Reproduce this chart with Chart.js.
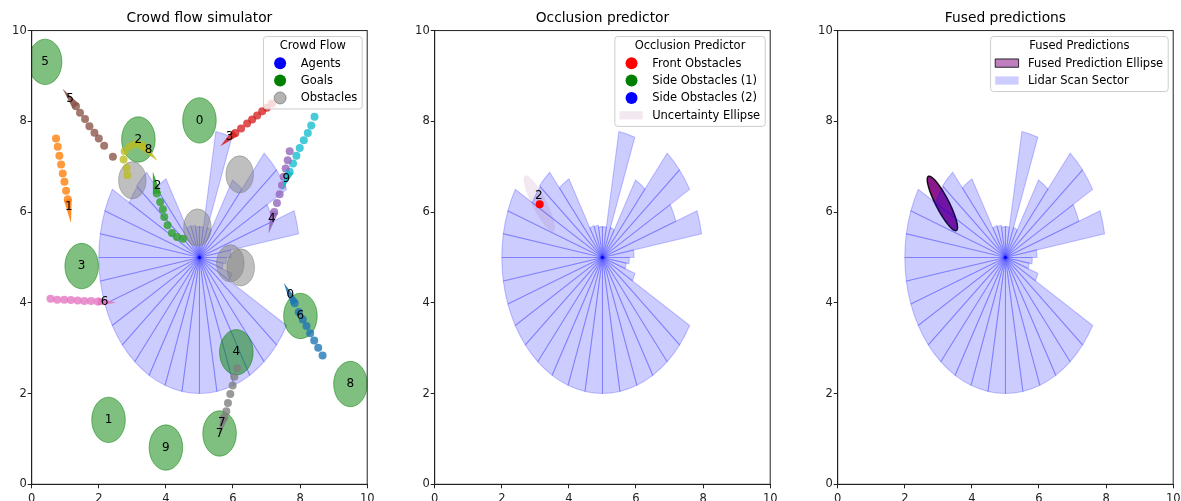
<!DOCTYPE html>
<html>
<head>
<meta charset="utf-8">
<script src="https://cdn.jsdelivr.net/npm/chart.js@4.4.0/dist/chart.umd.min.js"></script>
<style>
  body { margin: 0; background: #fff; width: 1181px; height: 501px; overflow: hidden; position: relative; }
  .box { position: absolute; top: 0; width: 375px; height: 501px; }
</style>
</head>
<body>
<div class="box" style="left:0px"><canvas id="c1" width="375" height="501"></canvas></div>
<div class="box" style="left:402.6px"><canvas id="c2" width="375" height="501"></canvas></div>
<div class="box" style="left:805.6px"><canvas id="c3" width="375" height="501"></canvas></div>
<script>
// ---- data (data units) ----
const robotXY = [5, 5];
const sectorDeg = 10;
// one range per 10 degree lidar sector, counter-clockwise from +x
const lidarRanges = [0.94, 3.0, 2.33, 3.0, 3.0, 1.97, 0.7, 2.82, 0.68, 0.68, 0.72, 0.75,
  2.0, 2.45, 2.42, 3.0, 3.0, 3.0,
  3.0, 3.0, 3.0, 3.0, 3.0, 3.0, 3.0, 3.0, 3.0, 3.0, 3.0, 3.0, 3.0, 3.0, 3.0,
  1.03, 0.72, 0.8];

const goalIds = [0, 1, 2, 3, 4, 5, 6, 7, 8, 9];
const goalX = [5.0, 2.29, 3.18, 1.49, 6.1, 0.4, 8.01, 5.6, 9.5, 4.0];
const goalY = [8.02, 1.42, 7.6, 4.81, 2.91, 9.31, 3.71, 1.12, 2.21, 0.81];
const goalR = 0.5;

const obstacleX = [3.0, 6.2, 4.94, 5.92, 6.23];
const obstacleY = [6.7, 6.83, 5.66, 4.87, 4.78];
const obstacleR = 0.41;

// past positions of each agent, oldest first
const agentTrails = [
  [[8.67, 2.84], [8.54, 3.01], [8.42, 3.17], [8.30, 3.33], [8.19, 3.49], [8.08, 3.63], [7.96, 3.80], [7.84, 3.99]],
  [[0.725, 7.62], [0.776, 7.44], [0.825, 7.24], [0.875, 7.05], [0.925, 6.85], [0.975, 6.67], [1.024, 6.47], [1.075, 6.28]],
  [[4.51, 5.41], [4.33, 5.45], [4.18, 5.54], [4.05, 5.71], [3.95, 5.89], [3.91, 6.06], [3.83, 6.22], [3.73, 6.41]],
  [[7.16, 8.39], [7.01, 8.30], [6.87, 8.22], [6.72, 8.13], [6.57, 8.04], [6.42, 7.95], [6.24, 7.84], [6.07, 7.74]],
  [[7.69, 7.34], [7.63, 7.14], [7.57, 6.96], [7.51, 6.78], [7.46, 6.59], [7.39, 6.39], [7.31, 6.20], [7.23, 6.0]],
  [[2.42, 7.22], [2.16, 7.46], [2.0, 7.62], [1.87, 7.75], [1.72, 7.89], [1.59, 8.05], [1.44, 8.19], [1.32, 8.33]],
  [[0.56, 4.09], [0.76, 4.07], [0.97, 4.07], [1.17, 4.06], [1.37, 4.05], [1.57, 4.04], [1.77, 4.04], [1.97, 4.03]],
  [[6.12, 2.56], [6.04, 2.37], [5.99, 2.18], [5.92, 1.99], [5.85, 1.79], [5.80, 1.61], [5.74, 1.48]],
  [[2.85, 6.81], [2.83, 6.97], [2.74, 7.16], [2.77, 7.34], [2.93, 7.45], [3.1, 7.5], [3.28, 7.47]],
  [[8.43, 8.10], [8.33, 7.91], [8.23, 7.74], [8.11, 7.58], [7.99, 7.41], [7.89, 7.24], [7.79, 7.07], [7.69, 6.89]]
];
const agentLabelX = [7.71, 1.11, 3.75, 5.9, 7.16, 1.14, 2.17, 5.67, 3.48, 7.59];
const agentLabelY = [4.17, 6.11, 6.57, 7.66, 5.84, 8.49, 4.02, 1.36, 7.37, 6.74];
const agentTipX = [7.51, 1.17, 3.61, 5.62, 7.06, 0.92, 2.52, 5.57, 3.75, 7.46];
const agentTipY = [4.44, 5.76, 6.89, 7.45, 5.53, 8.72, 4.0, 1.05, 7.13, 6.48];

// occlusion predictor
const frontObsIds = [2];
const frontObsX = [3.13];
const frontObsY = [6.17];
const ellipseCenter = [3.12, 6.19];
const ellipseAxes = [0.75, 0.2];
const ellipseAngle = -54.2;
const fusedAxes = [0.73, 0.18];

const tab10 = ['#1f77b4', '#ff7f0e', '#2ca02c', '#d62728', '#9467bd', '#8c564b', '#e377c2', '#7f7f7f', '#bcbd22', '#17becf'];

Chart.defaults.font.family = '"DejaVu Sans", sans-serif';
Chart.defaults.color = '#222';

function rgba(hex, a) {
  const n = parseInt(hex.slice(1), 16);
  return `rgba(${n >> 16},${(n >> 8) & 255},${n & 255},${a})`;
}

function scaleOpts(isX) {
  return {
    type: 'linear', min: 0, max: 10,
    ticks: { stepSize: 2, font: { size: 11.5 }, color: '#222', padding: isX ? 4 : 1, maxRotation: 0 },
    grid: { drawOnChartArea: false, drawTicks: true, tickLength: 4, color: '#222' },
    border: { display: true, color: '#222' },
    afterFit(s) {
      if (isX) s.height = 16.7; else s.width = 31.7;
      s.paddingLeft = s.paddingRight = s.paddingTop = s.paddingBottom = 0;
    }
  };
}

function px(chart, x, y) {
  return [chart.scales.x.getPixelForValue(x), chart.scales.y.getPixelForValue(y)];
}

function clipArea(chart) {
  const { ctx, chartArea: a } = chart;
  ctx.save();
  ctx.beginPath();
  ctx.rect(a.left, a.top, a.right - a.left, a.bottom - a.top);
  ctx.clip();
}

function drawLidar(chart) {
  const { ctx, scales: { x, y } } = chart;
  const [cx, cy] = px(chart, robotXY[0], robotXY[1]);
  const sx = x.getPixelForValue(1) - x.getPixelForValue(0);
  const sy = y.getPixelForValue(0) - y.getPixelForValue(1);
  ctx.fillStyle = 'rgba(0,0,255,0.2)';
  ctx.strokeStyle = 'rgba(0,0,255,0.22)';
  ctx.lineWidth = 1.1;
  lidarRanges.forEach((r, i) => {
    const a0 = i * sectorDeg * Math.PI / 180, a1 = (i + 1) * sectorDeg * Math.PI / 180;
    ctx.beginPath();
    ctx.moveTo(cx, cy);
    ctx.ellipse(cx, cy, r * sx, r * sy, 0, -a0, -a1, true);
    ctx.closePath();
    ctx.fill();
    ctx.stroke();
  });
}

function drawCircles(chart, xs, ys, r, color) {
  const { ctx, scales: { x, y } } = chart;
  const sx = x.getPixelForValue(1) - x.getPixelForValue(0);
  const sy = y.getPixelForValue(0) - y.getPixelForValue(1);
  ctx.fillStyle = color;
  ctx.strokeStyle = color;
  ctx.lineWidth = 1;
  xs.forEach((v, i) => {
    const [cx, cy] = px(chart, v, ys[i]);
    ctx.beginPath();
    ctx.ellipse(cx, cy, r * sx, r * sy, 0, 0, Math.PI * 2);
    ctx.fill();
    ctx.stroke();
  });
}

// rotated ellipse in data coordinates
function drawDataEllipse(chart, c, axes, angDeg, fill, stroke, lw) {
  const { ctx } = chart;
  const phi = angDeg * Math.PI / 180;
  ctx.beginPath();
  for (let k = 0; k <= 72; k++) {
    const t = k / 72 * Math.PI * 2;
    const ex = axes[0] * Math.cos(t), ey = axes[1] * Math.sin(t);
    const [qx, qy] = px(chart, c[0] + ex * Math.cos(phi) - ey * Math.sin(phi), c[1] + ex * Math.sin(phi) + ey * Math.cos(phi));
    if (k === 0) ctx.moveTo(qx, qy); else ctx.lineTo(qx, qy);
  }
  ctx.closePath();
  ctx.fillStyle = fill;
  ctx.fill();
  if (stroke) { ctx.strokeStyle = stroke; ctx.lineWidth = lw; ctx.stroke(); }
}

function drawText(chart, s, x, y) {
  const { ctx } = chart;
  const [qx, qy] = px(chart, x, y);
  ctx.fillStyle = '#000';
  ctx.font = '12px "DejaVu Sans"';
  ctx.textAlign = 'center';
  ctx.textBaseline = 'middle';
  ctx.fillText(s, qx, qy);
}

function drawFrame(chart) {
  const { ctx, chartArea: a } = chart;
  ctx.save();
  ctx.strokeStyle = '#222';
  ctx.lineWidth = 1;
  ctx.strokeRect(a.left, a.top, a.right - a.left, a.bottom - a.top);
  ctx.restore();
}

function drawLegend(chart, title, items) {
  const { ctx, chartArea: a } = chart;
  ctx.save();
  ctx.font = '11.5px "DejaVu Sans"';
  const textW = Math.max(...items.map(it => ctx.measureText(it.text).width));
  const w = Math.max(37.3 + textW + 5, ctx.measureText(title).width + 10);
  const h = 26.6 + (items.length - 1) * 17.4 + 11;
  const left = a.right - 5 - w, top = a.top + 6;
  ctx.beginPath();
  ctx.roundRect(left, top, w, h, 3);
  ctx.fillStyle = 'rgba(255,255,255,0.8)';
  ctx.fill();
  ctx.strokeStyle = '#cccccc';
  ctx.lineWidth = 1;
  ctx.stroke();
  ctx.fillStyle = '#000';
  ctx.textBaseline = 'middle';
  ctx.textAlign = 'center';
  ctx.fillText(title, left + w / 2, top + 9.5);
  items.forEach((it, i) => {
    const cy = top + 26.6 + i * 17.4;
    ctx.beginPath();
    if (it.type === 'circle') {
      ctx.arc(left + 16.7, cy, 6, 0, Math.PI * 2);
    } else {
      ctx.rect(left + 4.6, cy - 4.2, 23.4, 8.3);
    }
    ctx.fillStyle = it.fill;
    ctx.fill();
    if (it.stroke) { ctx.strokeStyle = it.stroke; ctx.lineWidth = 1; ctx.stroke(); }
    ctx.fillStyle = '#000';
    ctx.textAlign = 'left';
    ctx.fillText(it.text, left + 37.3, cy + 0.5);
  });
  ctx.restore();
}

function baseOptions(title) {
  return {
    responsive: false,
    animation: false,
    events: [],
    layout: { padding: { left: 0, right: 7.8, top: 0, bottom: 0 } },
    scales: { x: scaleOpts(true), y: scaleOpts(false) },
    plugins: {
      legend: { display: false },
      tooltip: { enabled: false },
      title: { display: true, text: title, fullSize: false, color: '#000',
        font: { size: 13.8, weight: 'normal' }, padding: { top: 10, bottom: 4 } }
    }
  };
}

const robotDataset = {
  label: 'robot', data: [{ x: robotXY[0], y: robotXY[1] }],
  backgroundColor: 'rgba(0,0,255,0.9)', pointRadius: 1.5, borderWidth: 0
};

// ---- chart 1: crowd flow ----
new Chart(document.getElementById('c1'), {
  type: 'scatter',
  data: {
    datasets: agentTrails.map((trail, i) => ({
      label: 'Agent ' + i,
      data: trail.map(p => ({ x: p[0], y: p[1] })),
      backgroundColor: rgba(tab10[i], 0.8),
      pointRadius: 4,
      borderWidth: 0
    })).concat([robotDataset])
  },
  options: baseOptions('Crowd flow simulator'),
  plugins: [{
    id: 'crowd',
    beforeDatasetsDraw(chart) {
      clipArea(chart);
      drawLidar(chart);
      drawCircles(chart, goalX, goalY, goalR, 'rgba(0,128,0,0.5)');
      drawCircles(chart, obstacleX, obstacleY, obstacleR, 'rgba(128,128,128,0.5)');
      chart.ctx.restore();
    },
    afterDatasetsDraw(chart) {
      const { ctx } = chart;
      clipArea(chart);
      agentTrails.forEach((trail, i) => {
        const last = trail[trail.length - 1];
        const [bx, by] = px(chart, last[0], last[1]);
        const [tx, ty] = px(chart, agentTipX[i], agentTipY[i]);
        const L = Math.hypot(tx - bx, ty - by), nx = -(ty - by) / L, ny = (tx - bx) / L, hw = 4;
        ctx.beginPath();
        ctx.moveTo(tx, ty);
        ctx.lineTo(bx + nx * hw, by + ny * hw);
        ctx.lineTo(bx - nx * hw, by - ny * hw);
        ctx.closePath();
        ctx.fillStyle = rgba(tab10[i], 0.9);
        ctx.fill();
      });
      goalIds.forEach((g, i) => drawText(chart, String(g), goalX[i], goalY[i]));
      agentTrails.forEach((t, i) => drawText(chart, String(i), agentLabelX[i], agentLabelY[i]));
      ctx.restore();
    },
    afterDraw(chart) {
      drawFrame(chart);
      drawLegend(chart, 'Crowd Flow', [
        { type: 'circle', fill: '#0000ff', text: 'Agents' },
        { type: 'circle', fill: '#008000', text: 'Goals' },
        { type: 'circle', fill: 'rgba(128,128,128,0.6)', stroke: 'rgba(100,100,100,0.6)', text: 'Obstacles' }
      ]);
    }
  }]
});

// ---- chart 2: occlusion predictor ----
new Chart(document.getElementById('c2'), {
  type: 'scatter',
  data: {
    datasets: [
      { label: 'Front Obstacles', data: frontObsX.map((v, i) => ({ x: v, y: frontObsY[i] })),
        backgroundColor: '#ff0000', pointRadius: 4, borderWidth: 0 },
      robotDataset
    ]
  },
  options: baseOptions('Occlusion predictor'),
  plugins: [{
    id: 'occl',
    beforeDatasetsDraw(chart) {
      clipArea(chart);
      drawLidar(chart);
      drawDataEllipse(chart, ellipseCenter, ellipseAxes, ellipseAngle, 'rgba(120,40,100,0.1)');
      chart.ctx.restore();
    },
    afterDatasetsDraw(chart) {
      frontObsIds.forEach((id, i) => drawText(chart, String(id), frontObsX[i] - 0.03, frontObsY[i] + 0.19));
    },
    afterDraw(chart) {
      drawFrame(chart);
      drawLegend(chart, 'Occlusion Predictor', [
        { type: 'circle', fill: '#ff0000', text: 'Front Obstacles' },
        { type: 'circle', fill: '#008000', text: 'Side Obstacles (1)' },
        { type: 'circle', fill: '#0000ff', text: 'Side Obstacles (2)' },
        { type: 'patch', fill: 'rgba(120,40,100,0.1)', text: 'Uncertainty Ellipse' }
      ]);
    }
  }]
});

// ---- chart 3: fused predictions ----
new Chart(document.getElementById('c3'), {
  type: 'scatter',
  data: { datasets: [robotDataset] },
  options: baseOptions('Fused predictions'),
  plugins: [{
    id: 'fused',
    beforeDatasetsDraw(chart) {
      clipArea(chart);
      drawDataEllipse(chart, ellipseCenter, fusedAxes, ellipseAngle, 'rgba(128,0,128,0.9)', 'rgba(0,0,0,0.9)', 1.5);
      drawLidar(chart);
      chart.ctx.restore();
    },
    afterDraw(chart) {
      drawFrame(chart);
      drawLegend(chart, 'Fused Predictions', [
        { type: 'patch', fill: 'rgba(128,0,128,0.5)', stroke: 'rgba(0,0,0,0.8)', text: 'Fused Prediction Ellipse' },
        { type: 'patch', fill: 'rgba(0,0,255,0.2)', text: 'Lidar Scan Sector' }
      ]);
    }
  }]
});
</script>
</body>
</html>
